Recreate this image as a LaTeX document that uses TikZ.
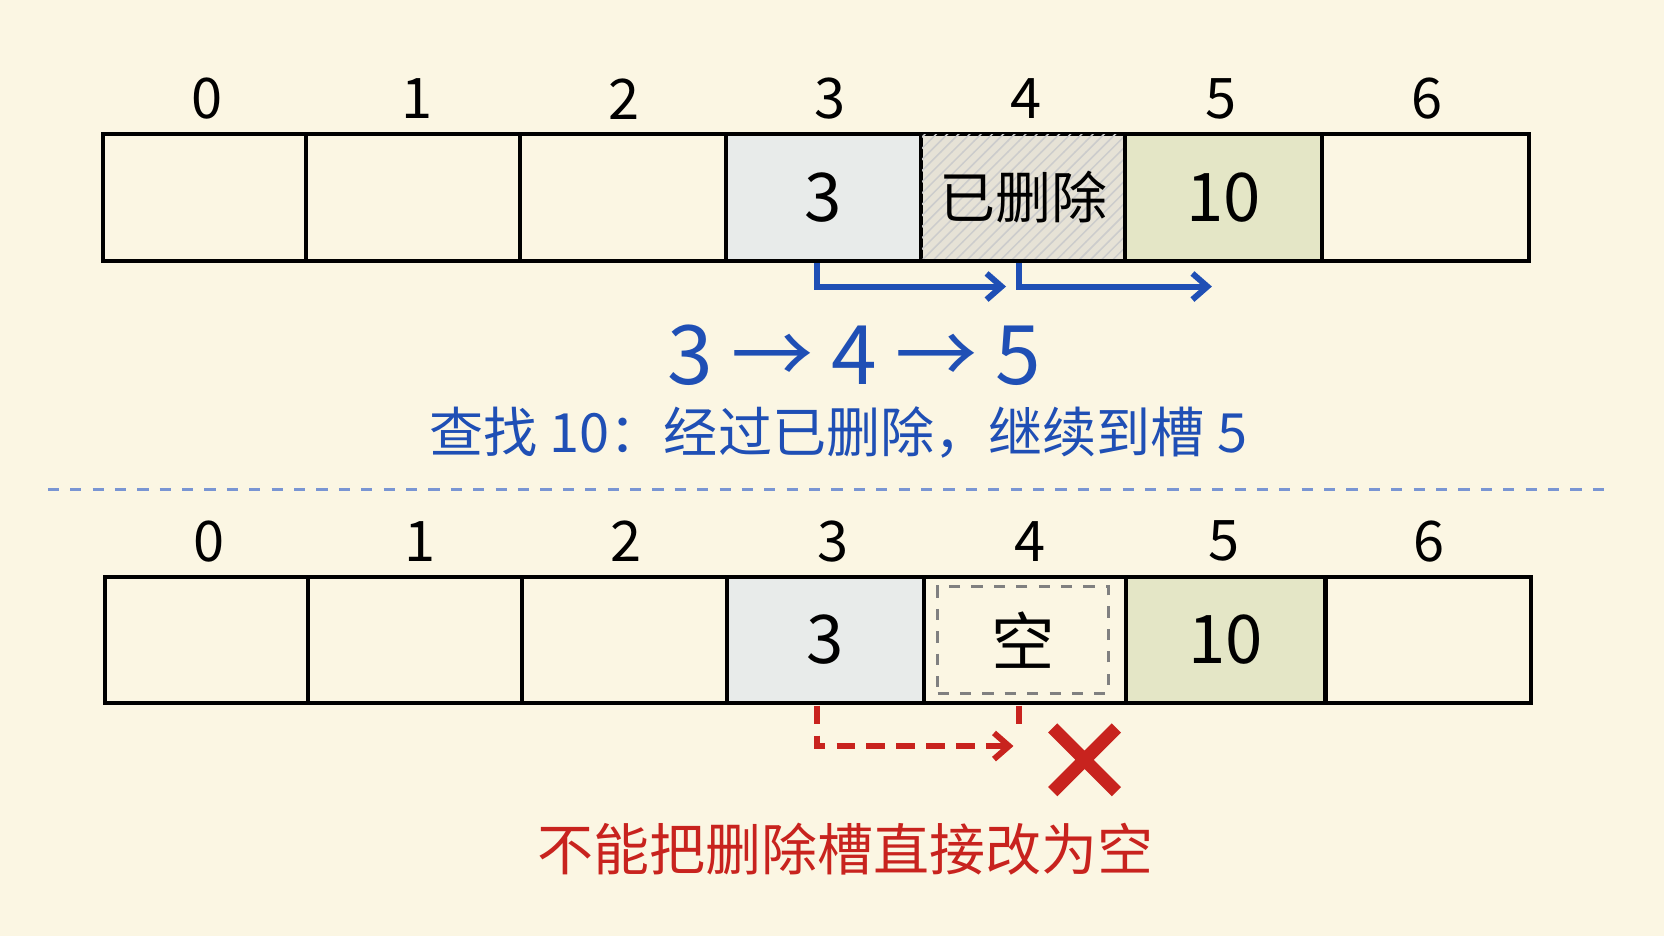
\documentclass[tikz,border=0pt]{standalone}
\usepackage{fontspec}
\setmainfont{Noto Sans CJK SC}
\usetikzlibrary{patterns,arrows.meta}
\definecolor{paper}{HTML}{FBF6E3}
\definecolor{probe}{HTML}{1F4FB5}
\definecolor{bad}{HTML}{C8231E}
\definecolor{keyA}{HTML}{E8EBEA}
\definecolor{keyB}{HTML}{E4E6C6}
\definecolor{gone}{HTML}{E6E2D6}
\begin{document}
\begin{tikzpicture}
  [
    x=0.01cm, y=-0.01cm,
    >={Straight Barb[length=4pt,width=7pt]},
    cell/.style  = {draw, line width=1.1pt, minimum height=1.19cm, inner sep=0pt, font=\fontsize{18}{18}\selectfont},
    idx/.style   = {font=\fontsize{15}{15}\selectfont},
    hop/.style   = {probe, line width=1.6pt, ->},
    wrong/.style = {bad, line width=1.6pt, dash pattern=on 5pt off 3pt, ->},
  ]
  \fill[paper] (0,0) rectangle (1568,882);
  \useasboundingbox (0,0) rectangle (1568,882);

  % top table
  \foreach \i/\a/\b/\c in {0/97/288/195, 1/288/490/393, 2/490/684/588, 3/684/868/782,
                           4/868/1060/967, 5/1060/1246/1151, 6/1246/1441/1345}
  {
    \node[cell, minimum width={(\b-\a)*0.01cm}] (t\i) at ({(\a+\b)/2},186) {};
    \node[idx] (ti\i) at (\c,93) {\i};
  }
  \node[cell, fill=keyA, minimum width=1.84cm] (t3) at (776,186) {3};
  \node[cell, fill=gone, minimum width=1.92cm] (t4) at (964,186) {};
  \begin{scope}
    \clip (869,127) rectangle (1059,244);
    \fill[pattern=north east lines, pattern color=gray!40] (869,127) rectangle (1059,244);
  \end{scope}
  \node[font=\fontsize{15}{15}\selectfont] (gonetxt) at (t4) {已删除};
  \node[cell, fill=keyB, minimum width=1.86cm] (t5) at (1153,186) {10};

  \coordinate (p3) at (770,248);
  \coordinate (p4) at (960,248);
  \draw[hop] (p3) |- (948,270);
  \draw[hop] (p4) |- (1142,270);

  \node[probe, font=\fontsize{22}{22}\selectfont] (chain) at (805,335) {3 → 4 → 5};
  \node[probe, font=\fontsize{14.5}{14.5}\selectfont] (find) at (790,408) {查找 10：经过已删除，继续到槽 5};

  \draw[probe!60, dashed, line width=0.8pt] (45,461) -- (1515,461);

  % bottom table
  \foreach \i/\a/\b/\c in {0/99/290/197, 1/290/492/396, 2/492/686/590, 3/686/871/785,
                           4/871/1062/971, 5/1062/1249/1153, 6/1249/1443/1347}
  {
    \node[cell, minimum width={(\b-\a)*0.01cm}] (b\i) at ({(\a+\b)/2},603) {};
    \node[idx] (bi\i) at (\c,510) {\i};
  }
  \node[cell, fill=keyA, minimum width=1.85cm] (b3) at (778,603) {3};
  \node[cell, fill=keyB, minimum width=1.87cm] (b5) at (1155,603) {10};
  \node[draw=gray, dashed, line width=0.8pt, minimum width=1.61cm, minimum height=1cm,
        font=\fontsize{17}{17}\selectfont] (empty) at (964,603) {空};

  \coordinate (q3) at (770,665);
  \coordinate (q4) at (960,665);
  \draw[wrong] (q3) |- (955,703);
  \draw[bad, line width=1.6pt, dash pattern=on 5pt off 3pt] (q4) -- (960,692);
  \draw[bad, line width=3.5pt] (992,686) -- (1052,746) (1052,686) -- (992,746);

  \node[bad, font=\fontsize{15}{15}\selectfont] (note) at (797,800) {不能把删除槽直接改为空};
\end{tikzpicture}
\end{document}
